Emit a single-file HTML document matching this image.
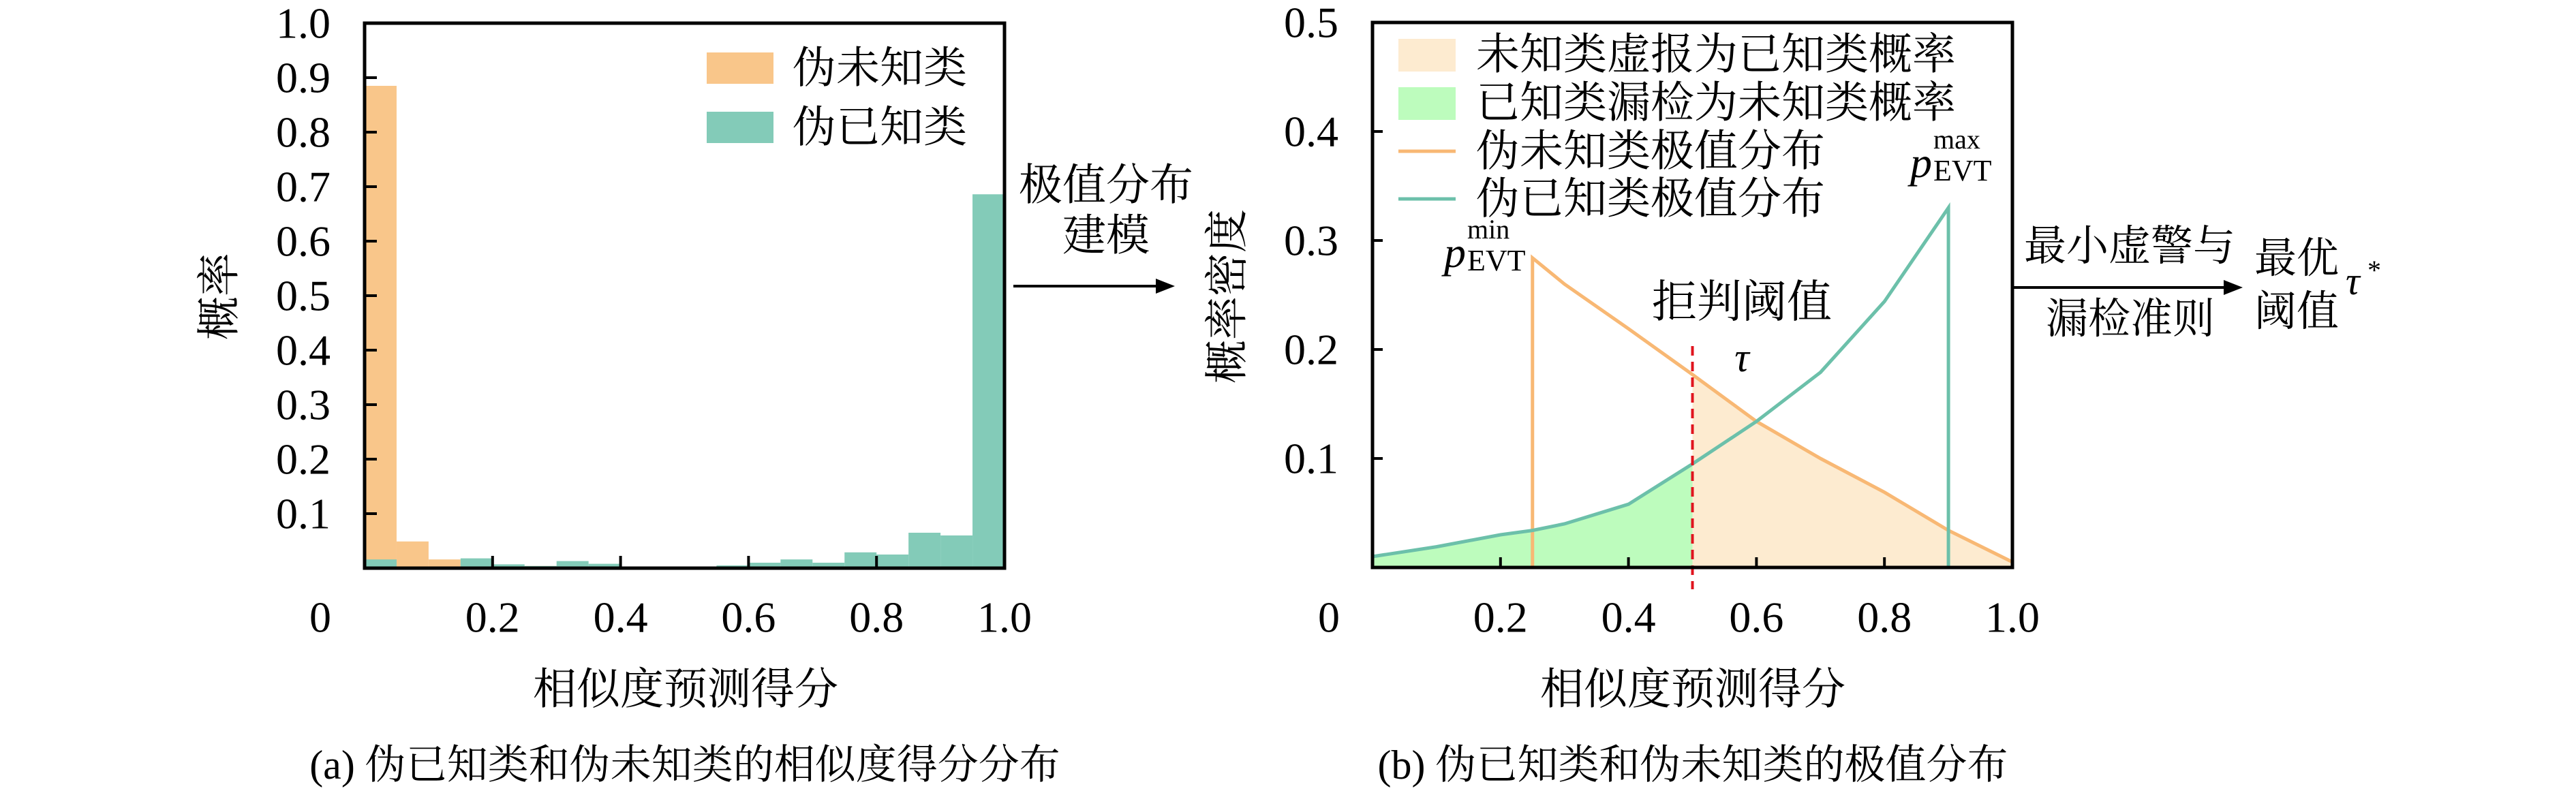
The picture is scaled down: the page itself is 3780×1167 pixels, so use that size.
<!DOCTYPE html>
<html><head><meta charset="utf-8"><style>
html,body{margin:0;padding:0;background:#fff;}
svg{display:block;}
.t{font-family:"Liberation Serif","Noto Serif CJK SC",serif;fill:#000;}
.c{font-family:"Liberation Serif","Noto Serif CJK SC",serif;fill:#000;}
</style></head><body>
<svg id="fig" width="3780" height="1167" viewBox="0 0 3780 1167" xmlns="http://www.w3.org/2000/svg">
<g id="left"></g>
<g id="right"></g>
<g id="annot">
  <text class="c" x="1623" y="272" font-size="64" text-anchor="middle" dominant-baseline="central">极值分布</text>
  <text class="c" x="1623" y="346" font-size="64" text-anchor="middle" dominant-baseline="central">建模</text>
  <line x1="1487" y1="420" x2="1705" y2="420" stroke="#000" stroke-width="4"/>
  <polygon points="1724,420 1696,409 1696,431" fill="#000"/>
  <text class="c" x="3125" y="362" font-size="62" text-anchor="middle" dominant-baseline="central">最小虚警与</text>
  <text class="c" x="3126" y="469" font-size="62" text-anchor="middle" dominant-baseline="central">漏检准则</text>
  <line x1="2954" y1="422" x2="3272" y2="422" stroke="#000" stroke-width="4"/>
  <polygon points="3291,422 3263,411 3263,433" fill="#000"/>
  <text class="c" x="3370" y="380" font-size="62" text-anchor="middle" dominant-baseline="central">最优</text>
  <text class="c" x="3370" y="458" font-size="62" text-anchor="middle" dominant-baseline="central">阈值</text>
  <text class="c" x="3442" y="432" font-size="58" font-style="italic">τ</text>
  <text class="c" x="3474" y="410" font-size="40">*</text>
  <text class="c" x="1005" y="1123" font-size="60" text-anchor="middle" dominant-baseline="central">(a) 伪已知类和伪未知类的相似度得分分布</text>
  <text class="c" x="2484" y="1123" font-size="60" text-anchor="middle" dominant-baseline="central">(b) 伪已知类和伪未知类的极值分布</text>
</g>
</svg>
<script>
// ---- histogram data ----
const binCount = 20;
const unknownProb = [0.885,0.049,0.016,0.005,0.003,0.004,0,0,0,0,0,0,0,0,0,0,0,0,0,0];
const knownProb = [0.016,0.003,0.003,0.018,0.007,0.004,0.013,0.008,0.001,0.001,0.003,0.005,0.010,0.016,0.010,0.029,0.025,0.065,0.060,0.686];
const leftYTicks = [0.1,0.2,0.3,0.4,0.5,0.6,0.7,0.8,0.9,1.0];
const leftYTickLabels = ["0.1","0.2","0.3","0.4","0.5","0.6","0.7","0.8","0.9","1.0"];
const xTicks = [0,0.2,0.4,0.6,0.8,1.0];
const xTickLabels = ["0","0.2","0.4","0.6","0.8","1.0"];
// ---- EVT curves ----
const unknownX = [0.25,0.3,0.4,0.5,0.6,0.7,0.8,0.9,1.0];
const unknownY = [0.284,0.26,0.219,0.177,0.134,0.1,0.069,0.034,0.005];
const knownX = [0,0.1,0.2,0.25,0.3,0.4,0.5,0.6,0.7,0.8,0.9];
const knownY = [0.01,0.019,0.03,0.034,0.04,0.058,0.095,0.134,0.179,0.244,0.33];
const tau = 0.5;
const rightYTicks = [0.1,0.2,0.3,0.4,0.5];
const rightYTickLabels = ["0.1","0.2","0.3","0.4","0.5"];

const NS="http://www.w3.org/2000/svg";
function mk(parent,tag,attrs,text){const e=document.createElementNS(NS,tag);for(const k in attrs)e.setAttribute(k,attrs[k]);if(text!==undefined)e.textContent=text;parent.appendChild(e);return e;}

// Left axes
const L={x0:535,x1:1474,y0:834,y1:34};
const lx=v=>L.x0+v*(L.x1-L.x0);
const ly=v=>L.y0-v*(L.y0-L.y1);
const gl=document.getElementById('left');
const bw=1/binCount;
unknownProb.forEach((v,i)=>{ if(v<=0)return;
  const r=mk(gl,'rect',{x:lx(i*bw),y:ly(v),width:lx(bw)-lx(0),height:ly(0)-ly(v),fill:'#f9c68a'});
  
  
});
knownProb.forEach((v,i)=>{ if(v<=0)return;
  const r=mk(gl,'rect',{x:lx(i*bw),y:ly(v),width:lx(bw)-lx(0),height:ly(0)-ly(v),fill:'#83cbb8'});
  
  
});
let fr=mk(gl,'rect',{x:L.x0,y:L.y1,width:L.x1-L.x0,height:L.y0-L.y1,fill:'none',stroke:'#000','stroke-width':5});


leftYTicks.forEach((v,i)=>{
  if(v<1){const t=mk(gl,'line',{x1:L.x0,x2:L.x0+18,y1:ly(v),y2:ly(v),stroke:'#000','stroke-width':4});
  
  }
  const lb=mk(gl,'text',{class:'t',x:485,y:ly(v),'font-size':64,'text-anchor':'end','dominant-baseline':'central'},leftYTickLabels[i]);
  
  
});
xTicks.forEach((v,i)=>{
  if(v>0&&v<1){const t=mk(gl,'line',{x1:lx(v),x2:lx(v),y1:L.y0,y2:L.y0-18,stroke:'#000','stroke-width':4});
  
  }
  const px=v===0?470:lx(v);
  const lb=mk(gl,'text',{class:'t',x:px,y:906,'font-size':64,'text-anchor':'middle','dominant-baseline':'central'},xTickLabels[i]);
  
  
});
let yt=mk(gl,'text',{class:'c',x:0,y:0,'font-size':64,'text-anchor':'middle','dominant-baseline':'central',transform:'translate(322,435) rotate(-90)'},'概率');


let xt=mk(gl,'text',{class:'c',x:1006,y:1012,'font-size':64,'text-anchor':'middle','dominant-baseline':'central'},'相似度预测得分');


let s1=mk(gl,'rect',{x:1037,y:77,width:98,height:46,fill:'#f9c68a'});


let s2=mk(gl,'rect',{x:1037,y:164,width:98,height:46,fill:'#83cbb8'});


let l1=mk(gl,'text',{class:'c',x:1163,y:100,'font-size':64,'dominant-baseline':'central'},'伪未知类');


let l2=mk(gl,'text',{class:'c',x:1163,y:187,'font-size':64,'dominant-baseline':'central'},'伪已知类');



// Right axes
const R={x0:2014,x1:2953,y0:833,y1:33};
const rx=v=>R.x0+v*(R.x1-R.x0);
const ry=v=>R.y0-v*(R.y0-R.y1)/0.5;
const gr=document.getElementById('right');
function interp(xs,ys,x){for(let i=0;i<xs.length-1;i++){if(x>=xs[i]&&x<=xs[i+1]){const t=(x-xs[i])/(xs[i+1]-xs[i]);return ys[i]+t*(ys[i+1]-ys[i]);}}return 0;}
// green fill 0..tau
let gp=`M${rx(knownX[0])},${ry(0)}`;
knownX.forEach((x,i)=>{if(x<=tau)gp+=` L${rx(x)},${ry(knownY[i])}`;});
gp+=` L${rx(tau)},${ry(interp(knownX,knownY,tau))} L${rx(tau)},${ry(0)} Z`;
let gf=mk(gr,'path',{d:gp,fill:'#bdfcbd'});


// orange fill tau..1
let op=`M${rx(tau)},${ry(0)} L${rx(tau)},${ry(interp(unknownX,unknownY,tau))}`;
unknownX.forEach((x,i)=>{if(x>tau)op+=` L${rx(x)},${ry(unknownY[i])}`;});
op+=` L${rx(unknownX[unknownX.length-1])},${ry(0)} Z`;
let of=mk(gr,'path',{d:op,fill:'#fdebd0'});


// orange curve
let oc=`M${rx(unknownX[0])},${ry(0)}`;
unknownX.forEach((x,i)=>{oc+=` L${rx(x)},${ry(unknownY[i])}`;});
let ol=mk(gr,'path',{d:oc,fill:'none',stroke:'#f8b874','stroke-width':5});


let kc='';
knownX.forEach((x,i)=>{kc+=(i?' L':'M')+`${rx(x)},${ry(knownY[i])}`;});
kc+=` L${rx(knownX[knownX.length-1])},${ry(0)} L${R.x1},${ry(0)}`;
let kl=mk(gr,'path',{d:kc,fill:'none',stroke:'#6cc0aa','stroke-width':5});


// tau line
let tl=mk(gr,'line',{x1:rx(tau),x2:rx(tau),y1:ry(0.2)-5,y2:865,stroke:'#e0141e','stroke-width':4,'stroke-dasharray':'14,9'});


let fr2=mk(gr,'rect',{x:R.x0,y:R.y1,width:R.x1-R.x0,height:R.y0-R.y1,fill:'none',stroke:'#000','stroke-width':5});


rightYTicks.forEach((v,i)=>{
  if(v<0.5){const t=mk(gr,'line',{x1:R.x0,x2:R.x0+15,y1:ry(v),y2:ry(v),stroke:'#000','stroke-width':4});
  
  }
  const lb=mk(gr,'text',{class:'t',x:1964,y:ry(v),'font-size':64,'text-anchor':'end','dominant-baseline':'central'},rightYTickLabels[i]);
  
  
});
xTicks.forEach((v,i)=>{
  if(v>0&&v<1){const t=mk(gr,'line',{x1:rx(v),x2:rx(v),y1:R.y0,y2:R.y0-15,stroke:'#000','stroke-width':4});
  
  }
  const px=v===0?1950:rx(v);
  const lb=mk(gr,'text',{class:'t',x:px,y:906,'font-size':64,'text-anchor':'middle','dominant-baseline':'central'},xTickLabels[i]);
  
  
});
let yt2=mk(gr,'text',{class:'c',x:0,y:0,'font-size':64,'text-anchor':'middle','dominant-baseline':'central',transform:'translate(1801,435) rotate(-90)'},'概率密度');


let xt2=mk(gr,'text',{class:'c',x:2484,y:1012,'font-size':64,'text-anchor':'middle','dominant-baseline':'central'},'相似度预测得分');


// legend
let rs1=mk(gr,'rect',{x:2052,y:57,width:84,height:48,fill:'#fdebd0'});


let rs2=mk(gr,'rect',{x:2052,y:128,width:84,height:48,fill:'#bdfcbd'});


let rs3=mk(gr,'line',{x1:2052,x2:2136,y1:222,y2:222,stroke:'#f8b874','stroke-width':5});


let rs4=mk(gr,'line',{x1:2052,x2:2136,y1:292,y2:292,stroke:'#6cc0aa','stroke-width':5});


const legTexts=['未知类虚报为已知类概率','已知类漏检为未知类概率','伪未知类极值分布','伪已知类极值分布'];
const legY=[80,151,222,292];
legTexts.forEach((s,i)=>{
  const t=mk(gr,'text',{class:'c',x:2166,y:legY[i],'font-size':64,'dominant-baseline':'central'},s);
  
  
});
// annotations
let a1=mk(gr,'text',{class:'c',x:2556,y:444,'font-size':66,fill:'#e0141e','text-anchor':'middle','dominant-baseline':'central'},'拒判阈值');
a1.setAttribute('fill','#e0141e');


let a2=mk(gr,'text',{class:'c',x:2556,y:545,'font-size':60,'font-style':'italic','text-anchor':'middle'},'τ');
a2.setAttribute('fill','#e0141e');


function pEvt(x,y,sup,name){
  const g=mk(gr,'g',{});
  
  
  mk(g,'text',{class:'c',x:x,y:y,'font-size':64,'font-style':'italic'},'p');
  mk(g,'text',{class:'c',x:x+34,y:y-42,'font-size':40},sup);
  mk(g,'text',{class:'c',x:x+34,y:y+5,'font-size':44},'EVT');
}
pEvt(2119,392,'min','p-evt-min-label');
pEvt(2803,260,'max','p-evt-max-label');
</script>
</body></html>
